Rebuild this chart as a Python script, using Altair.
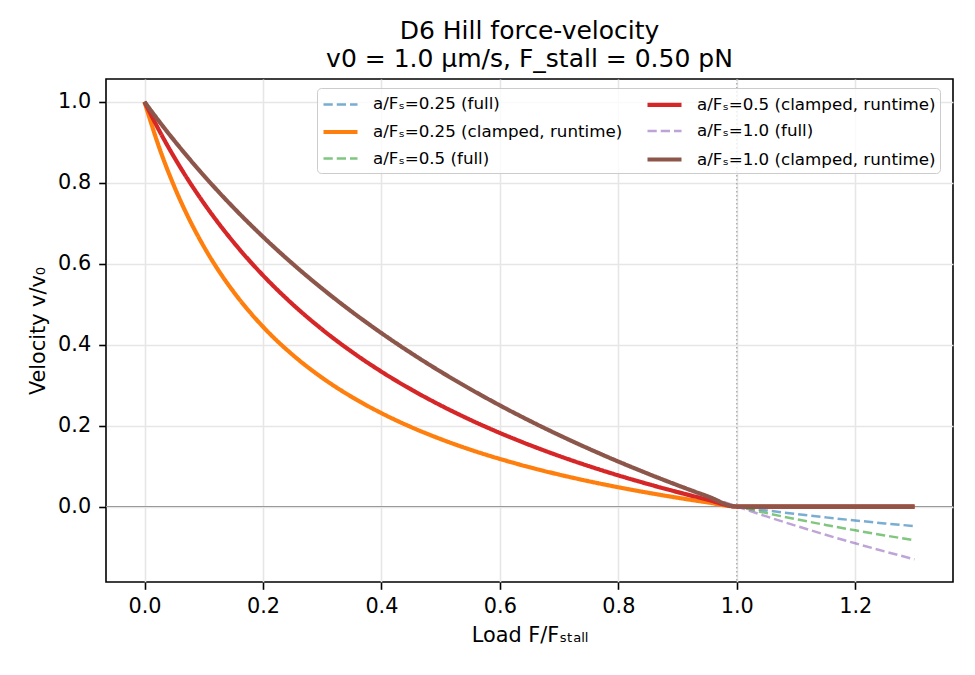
import altair as alt
import pandas as pd

# Load F/F_stall sample positions
x_load = [0.0, 0.025, 0.05, 0.075, 0.1, 0.125, 0.15, 0.2, 0.25, 0.3, 0.35, 0.4,
          0.45, 0.5, 0.55, 0.6, 0.65, 0.7, 0.75, 0.8, 0.85, 0.9, 0.95, 1.0,
          1.05, 1.1, 1.15, 1.2, 1.25, 1.3]

# full curves
v_full_025 = [1.0, 0.8864, 0.7917, 0.7115, 0.6429, 0.5833, 0.5313, 0.4444, 0.375, 0.3182,
              0.2708, 0.2308, 0.1964, 0.1667, 0.1406, 0.1176, 0.0972, 0.0789, 0.0625,
              0.0476, 0.0341, 0.0217, 0.0104, 0.0, -0.0096, -0.0185, -0.0268, -0.0345,
              -0.0417, -0.0484]
v_full_05 = [1.0, 0.9286, 0.8636, 0.8043, 0.75, 0.7, 0.6538, 0.5714, 0.5, 0.4375,
             0.3824, 0.3333, 0.2895, 0.25, 0.2143, 0.1818, 0.1522, 0.125, 0.1,
             0.0769, 0.0556, 0.0357, 0.0172, 0.0, -0.0161, -0.0313, -0.0455, -0.0588,
             -0.0714, -0.0833]
v_full_10 = [1.0, 0.9512, 0.9048, 0.8605, 0.8182, 0.7778, 0.7391, 0.6667, 0.6, 0.5385,
             0.4815, 0.4286, 0.3793, 0.3333, 0.2903, 0.25, 0.2121, 0.1765, 0.1429,
             0.1111, 0.0811, 0.0526, 0.0256, 0.0, -0.0244, -0.0476, -0.0698, -0.0909,
             -0.1111, -0.1304]

# clamped (runtime) curves: flat at zero past stall
v_clamp_025 = [1.0, 0.8864, 0.7917, 0.7115, 0.6429, 0.5833, 0.5313, 0.4444, 0.375, 0.3182,
               0.2708, 0.2308, 0.1964, 0.1667, 0.1406, 0.1176, 0.0972, 0.0789, 0.0625,
               0.0476, 0.0341, 0.0217, 0.0104, 0.0, 0.0, 0.0, 0.0, 0.0, 0.0, 0.0]
v_clamp_05 = [1.0, 0.9286, 0.8636, 0.8043, 0.75, 0.7, 0.6538, 0.5714, 0.5, 0.4375,
              0.3824, 0.3333, 0.2895, 0.25, 0.2143, 0.1818, 0.1522, 0.125, 0.1,
              0.0769, 0.0556, 0.0357, 0.0172, 0.0, 0.0, 0.0, 0.0, 0.0, 0.0, 0.0]
v_clamp_10 = [1.0, 0.9512, 0.9048, 0.8605, 0.8182, 0.7778, 0.7391, 0.6667, 0.6, 0.5385,
              0.4815, 0.4286, 0.3793, 0.3333, 0.2903, 0.25, 0.2121, 0.1765, 0.1429,
              0.1111, 0.0811, 0.0526, 0.0256, 0.0, 0.0, 0.0, 0.0, 0.0, 0.0, 0.0]

names = ["a/Fₛ=0.25 (full)", "a/Fₛ=0.25 (clamped, runtime)",
         "a/Fₛ=0.5 (full)", "a/Fₛ=0.5 (clamped, runtime)",
         "a/Fₛ=1.0 (full)", "a/Fₛ=1.0 (clamped, runtime)"]
series_values = [v_full_025, v_clamp_025, v_full_05, v_clamp_05, v_full_10, v_clamp_10]
colors = ["#1f77b4", "#ff7f0e", "#2ca02c", "#d62728", "#9467bd", "#8c564b"]
is_full = [True, False, True, False, True, False]

x_ticks = [0.0, 0.2, 0.4, 0.6, 0.8, 1.0, 1.2]
y_ticks = [0.0, 0.2, 0.4, 0.6, 0.8, 1.0]

rows = []
for n, vals in zip(names, series_values):
    for xv, yv in zip(x_load, vals):
        rows.append({"load": xv, "v": yv, "series": n})
df = pd.DataFrame(rows)

legend_order = names
leg_colors = colors
leg_dash = [[9.25, 4.0] if f else [1, 0] for f in is_full]
leg_width = [2.5 if f else 4.2 for f in is_full]
leg_opacity = [0.6 if f else 1.0 for f in is_full]

legend = alt.Legend(
    title=None, orient="none", legendX=211, legendY=9, columns=2,
    symbolType="M-1,0H2.4", symbolSize=400, labelFontSize=16.7, labelFont="DejaVu Sans",
    labelColor="black", labelOffset=27, columnPadding=16, rowPadding=5.5, padding=4,
    strokeColor="#cccccc", fillColor="rgba(255,255,255,0.8)", cornerRadius=4,
    labelLimit=600,
)

xenc = alt.X("load:Q",
             scale=alt.Scale(domain=[-0.065, 1.365], nice=False, zero=False),
             axis=alt.Axis(values=x_ticks, format=".1f", title="Load F/Fₛₜₐₗₗ"))
yenc = alt.Y("v:Q",
             scale=alt.Scale(domain=[-0.1865, 1.0565], nice=False, zero=False),
             axis=alt.Axis(values=y_ticks, format=".1f", title="Velocity v/v₀"))

base = alt.Chart(df).mark_line(interpolate="monotone").encode(
    x=xenc, y=yenc,
    color=alt.Color("series:N", scale=alt.Scale(domain=legend_order, range=leg_colors), legend=legend),
    strokeDash=alt.StrokeDash("series:N", scale=alt.Scale(domain=legend_order, range=leg_dash), legend=legend),
    strokeWidth=alt.StrokeWidth("series:N", scale=alt.Scale(type="ordinal", domain=legend_order, range=leg_width), legend=legend),
    opacity=alt.Opacity("series:N", scale=alt.Scale(type="ordinal", domain=legend_order, range=leg_opacity), legend=legend),
)

zero_line = alt.Chart(pd.DataFrame({"v": [0.0]})).mark_rule(color="#999999", strokeWidth=1.1).encode(
    y=alt.Y("v:Q"))
stall_line = alt.Chart(pd.DataFrame({"load": [1.0]})).mark_rule(
    color="#999999", strokeWidth=1.1, strokeDash=[1.5, 2.5]).encode(x=alt.X("load:Q"))

layers = [zero_line, stall_line] + [base.transform_filter(alt.datum.series == n) for n in names]

chart = alt.layer(*layers).properties(
    width=847, height=503,
    autosize=alt.AutoSizeParams(type="none"),
    padding={"left": 98, "top": 71, "right": 14, "bottom": 85},
    title=alt.TitleParams(
        text=["D6 Hill force-velocity", "v0 = 1.0 µm/s, F_stall = 0.50 pN"],
        fontSize=25, font="DejaVu Sans", fontWeight="normal", color="black",
        anchor="middle", lineHeight=28.7, offset=6,
    ),
).configure_view(
    stroke="black", strokeWidth=1.6
).configure_axis(
    labelFont="DejaVu Sans", titleFont="DejaVu Sans", labelFontSize=20.8,
    titleFontSize=20.8, titleFontWeight="normal", labelColor="black", titleColor="black",
    tickColor="black", tickSize=7.3, tickWidth=1.6, domain=False,
    gridColor="#e6e6e6", gridWidth=1.6,
).configure_axisX(
    labelPadding=7, titlePadding=9
).configure_axisY(
    labelPadding=8, titlePadding=9
)

chart.save("out.html", embed_options={"renderer": "svg", "actions": False})
